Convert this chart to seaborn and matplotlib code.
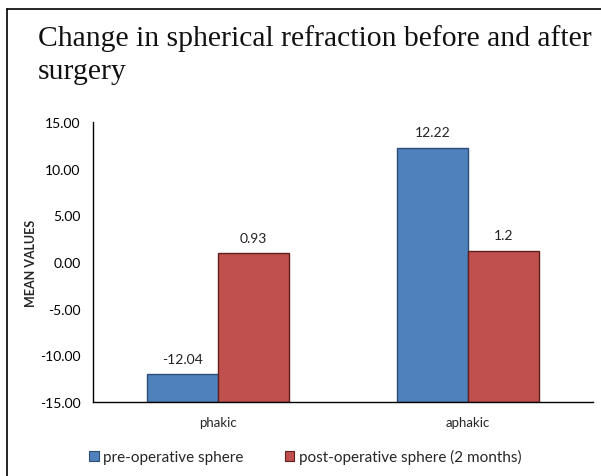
import pandas as pd
import seaborn as sns
import matplotlib.pyplot as plt
from matplotlib.lines import Line2D
from matplotlib.ticker import FormatStrFormatter, FixedLocator

groups = ["phakic", "aphakic"]
series = ["pre-operative sphere", "post-operative sphere (2 months)"]
pre_op = [-12.04, 12.22]
post_op = [0.93, 1.2]
value_labels = [["-12.04", "12.22"], ["0.93", "1.2"]]
y_ticks = [-15, -10, -5, 0, 5, 10, 15]

colors = ["#4F81BD", "#C0504D"]
edges = ["#2c4d75", "#5e1f1d"]
AXIS_FLOOR = -15


def build_frame():
    rows = []
    for s, vals in zip(series, [pre_op, post_op]):
        for g, v in zip(groups, vals):
            rows.append({"group": g, "series": s, "value": v})
    return pd.DataFrame(rows)


def bar_chart(df):
    fig = plt.figure(figsize=(6.01, 4.77), dpi=100)
    ax = fig.add_axes([0.1547, 0.155, 0.832, 0.587])
    sns.barplot(
        data=df, x="group", y="value", hue="series",
        palette=colors, width=0.57, ax=ax, legend=False,
        saturation=1, linewidth=1,
    )
    # excel style: bars grow from the bottom of the axis, not from zero
    for i, bar in enumerate(ax.patches):
        s = i // len(groups)
        h = bar.get_height()
        bar.set_y(AXIS_FLOOR)
        bar.set_height(h - AXIS_FLOOR)
        bar.set_edgecolor(edges[s])
        g = i % len(groups)
        ax.annotate(
            value_labels[s][g],
            (bar.get_x() + bar.get_width() / 2, bar.get_y() + bar.get_height()),
            xytext=(0, 7), textcoords="offset points",
            ha="center", va="bottom", fontsize=10, color="#222222",
        )

    ax.set_ylim(-15, 15)
    ax.set_xlim(-0.5, 1.5)
    ax.yaxis.set_major_locator(FixedLocator(y_ticks))
    ax.yaxis.set_major_formatter(FormatStrFormatter("%.2f"))
    ax.tick_params(axis="y", direction="out", length=5, width=1,
                   labelsize=10, pad=4, colors="black")
    ax.tick_params(axis="x", which="major", length=0, labelsize=9.5, pad=10)
    ax.xaxis.set_minor_locator(FixedLocator([-0.5, 0.5, 1.5]))
    ax.tick_params(axis="x", which="minor", direction="out", length=5, width=1)
    ax.set_xlabel("")
    ax.set_ylabel("MEAN VALUES", fontsize=9, fontweight="bold", labelpad=2)
    for side in ["top", "right"]:
        ax.spines[side].set_visible(False)
    for side in ["left", "bottom"]:
        ax.spines[side].set_color("black")
        ax.spines[side].set_linewidth(1)
    ax.grid(False)

    fig.text(0.063, 0.885, "Change in spherical refraction before and after\nsurgery",
             family="Liberation Serif", fontsize=21.3, ha="left", va="center",
             linespacing=1.32, color="#111111")

    handles = [plt.Rectangle((0, 0), 1, 1, facecolor=c, edgecolor=e, linewidth=0.8)
               for c, e in zip(colors, edges)]
    fig.legend(handles, series, loc="center", bbox_to_anchor=(0.508, 0.04),
               ncol=2, frameon=False, fontsize=11, handlelength=0.6,
               handleheight=0.6, handletextpad=0.3, columnspacing=2.7)

    fig.add_artist(Line2D([0.012, 0.012], [0, 0.979], color="black", linewidth=1.2))
    fig.add_artist(Line2D([0.012, 1.0], [0.979, 0.979], color="black", linewidth=1.2))

    fig.savefig("out.png", dpi=100)


def main():
    df = build_frame()
    bar_chart(df)


if __name__ == "__main__":
    sns.set_theme(style="white")
    plt.rcParams["font.family"] = ["Lato", "DejaVu Sans"]
    plt.rcParams["axes.unicode_minus"] = False
    main()
